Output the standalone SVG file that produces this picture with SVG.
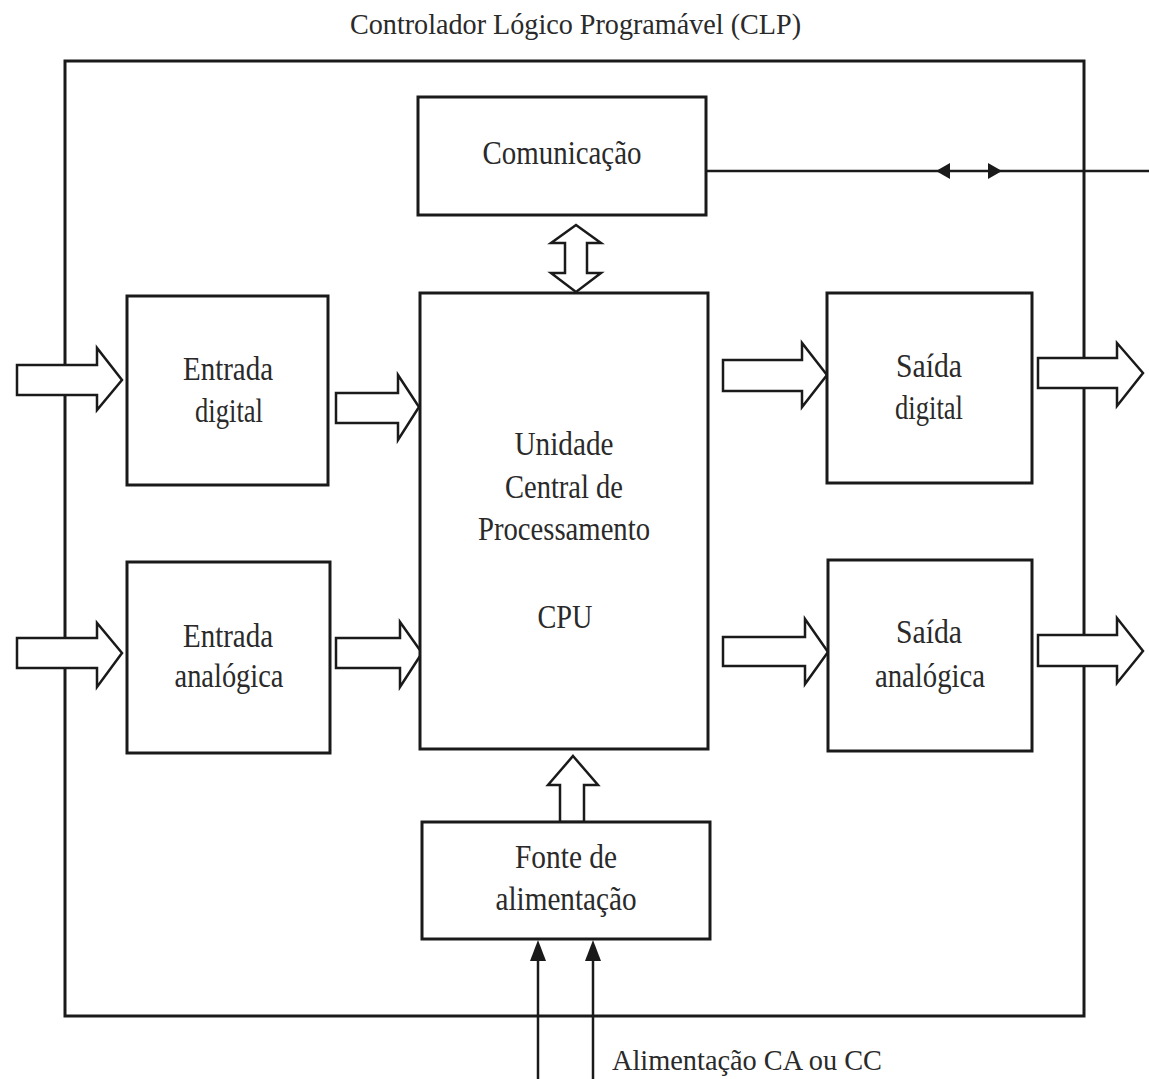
<svg xmlns="http://www.w3.org/2000/svg" width="1149" height="1079" viewBox="0 0 1149 1079">
  <style>
    .box { fill: #ffffff; stroke: #1a1a1a; stroke-width: 3; }
    .frame { fill: none; stroke: #1a1a1a; stroke-width: 3; }
    .block { fill: #ffffff; stroke: #1a1a1a; stroke-width: 2.5; stroke-linejoin: miter; }
    .wire { fill: none; stroke: #1a1a1a; stroke-width: 2.5; }
    .head { fill: #1a1a1a; stroke: none; }
    .lbl { font-family: "Liberation Serif", "DejaVu Serif", serif; font-size: 34px; fill: #2a2a2a; text-anchor: middle; }
    .title { font-family: "Liberation Serif", "DejaVu Serif", serif; font-size: 30px; fill: #2a2a2a; }
  </style>

  <rect width="1149" height="1079" fill="#ffffff"/>

  <!-- PLC enclosure -->
  <rect class="frame" x="65" y="61" width="1019" height="955"/>
  <text class="title" x="350" y="34" textLength="451" lengthAdjust="spacingAndGlyphs">Controlador Lógico Programável (CLP)</text>

  <g id="connectors">
    <!-- communication bus to the outside -->
    <line class="wire" x1="706" y1="171" x2="1149" y2="171"/>
    <polygon class="head" points="936,171 950,163 950,179"/>
    <polygon class="head" points="1002,171 988,163 988,179"/>

    <!-- CPU <-> communication -->
    <path class="block" d="M576,225 L601,243 H587 V273 H601 L576,292 L551,273 H565 V243 H551 Z"/>

    <!-- power supply -> CPU -->
    <path class="block" d="M573,756 L598,785 H584 V822 H560 V785 H548 Z"/>

    <!-- digital input -->
    <path class="block" d="M17,365 H97 V348 L122,380 L97,410 V395 H17 Z"/>
    <path class="block" d="M336,393 H398 V375 L419,407 L398,440 V423 H336 Z"/>

    <!-- analog input -->
    <path class="block" d="M17,638 H97 V623 L122,653 L97,687 V668 H17 Z"/>
    <path class="block" d="M336,638 H400 V622 L422,653 L400,687 V668 H336 Z"/>

    <!-- digital output -->
    <path class="block" d="M723,360 H802 V343 L827,375 L802,407 V391 H723 Z"/>
    <path class="block" d="M1038,358 H1117 V343 L1143,373 L1117,406 V388 H1038 Z"/>

    <!-- analog output -->
    <path class="block" d="M723,637 H805 V619 L828,652 L805,684 V666 H723 Z"/>
    <path class="block" d="M1038,635 H1117 V618 L1143,651 L1117,683 V666 H1038 Z"/>

    <!-- AC / DC supply lines -->
    <line class="wire" x1="538" y1="1079" x2="538" y2="958"/>
    <line class="wire" x1="593" y1="1079" x2="593" y2="958"/>
    <polygon class="head" points="538,940 530,961 546,961"/>
    <polygon class="head" points="593,940 585,961 601,961"/>
  </g>

  <g id="comunicacao">
    <rect class="box" x="418" y="97" width="288" height="118"/>
    <text class="lbl" x="562" y="164" textLength="159" lengthAdjust="spacingAndGlyphs">Comunicação</text>
  </g>

  <g id="entrada-digital">
    <rect class="box" x="127" y="296" width="201" height="189"/>
    <text class="lbl" x="228" y="380" textLength="90" lengthAdjust="spacingAndGlyphs">Entrada</text>
    <text class="lbl" x="229" y="422" textLength="68" lengthAdjust="spacingAndGlyphs">digital</text>
  </g>

  <g id="entrada-analogica">
    <rect class="box" x="127" y="562" width="203" height="191"/>
    <text class="lbl" x="228" y="647" textLength="90" lengthAdjust="spacingAndGlyphs">Entrada</text>
    <text class="lbl" x="229" y="687" textLength="109" lengthAdjust="spacingAndGlyphs">analógica</text>
  </g>

  <g id="cpu">
    <rect class="box" x="420" y="293" width="288" height="456"/>
    <text class="lbl" x="564" y="455" textLength="99" lengthAdjust="spacingAndGlyphs">Unidade</text>
    <text class="lbl" x="564" y="498" textLength="118" lengthAdjust="spacingAndGlyphs">Central de</text>
    <text class="lbl" x="564" y="540" textLength="172" lengthAdjust="spacingAndGlyphs">Processamento</text>
    <text class="lbl" x="565" y="628" textLength="55" lengthAdjust="spacingAndGlyphs">CPU</text>
  </g>

  <g id="saida-digital">
    <rect class="box" x="827" y="293" width="205" height="190"/>
    <text class="lbl" x="929" y="377" textLength="66" lengthAdjust="spacingAndGlyphs">Saída</text>
    <text class="lbl" x="929" y="419" textLength="68" lengthAdjust="spacingAndGlyphs">digital</text>
  </g>

  <g id="saida-analogica">
    <rect class="box" x="828" y="560" width="204" height="191"/>
    <text class="lbl" x="929" y="643" textLength="66" lengthAdjust="spacingAndGlyphs">Saída</text>
    <text class="lbl" x="930" y="687" textLength="110" lengthAdjust="spacingAndGlyphs">analógica</text>
  </g>

  <g id="fonte-alimentacao">
    <rect class="box" x="422" y="822" width="288" height="117"/>
    <text class="lbl" x="566" y="868" textLength="102" lengthAdjust="spacingAndGlyphs">Fonte de</text>
    <text class="lbl" x="566" y="910" textLength="141" lengthAdjust="spacingAndGlyphs">alimentação</text>
  </g>

  <text class="title" x="612" y="1070" font-size="33" textLength="270" lengthAdjust="spacingAndGlyphs">Alimentação CA ou CC</text>
</svg>
